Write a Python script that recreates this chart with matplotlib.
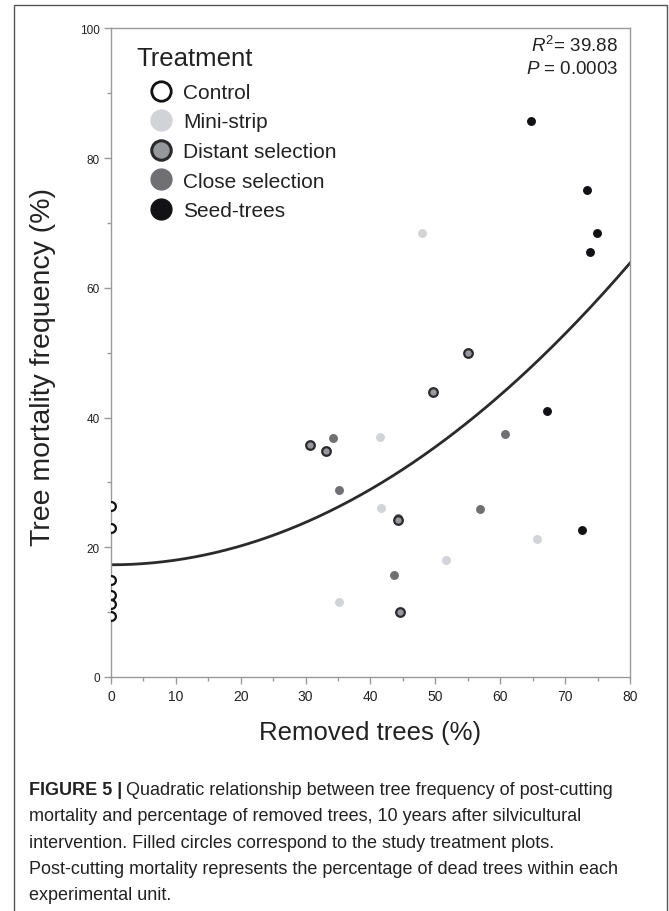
import matplotlib
matplotlib.use("Agg")
import numpy as np
import matplotlib.pyplot as plt
from matplotlib.lines import Line2D
from matplotlib.patches import Rectangle

# ---------- data ----------
control_x = [0, 0, 0, 0, 0, 0]
control_y = [26.3, 23.0, 14.9, 12.6, 11.2, 9.4]

ministrip_x = [35.1, 41.5, 41.6, 47.9, 51.6, 65.7]
ministrip_y = [11.5, 37.0, 26.0, 68.5, 18.1, 21.2]

closesel_x = [34.2, 35.1, 43.7, 44.2, 56.9, 60.7]
closesel_y = [36.8, 28.9, 15.8, 24.5, 25.9, 37.5]

distsel_x = [30.6, 33.2, 44.2, 44.5, 49.6, 55.0]
distsel_y = [35.8, 34.8, 24.2, 10.0, 43.9, 50.0]

seed_x = [64.7, 67.2, 72.6, 73.4, 73.8, 74.9]
seed_y = [85.8, 41.0, 22.7, 75.1, 65.6, 68.5]

# quadratic fit y = b0 + b2 * x^2
fit_b0 = 17.3
fit_b2 = 0.00727

r2_label = "39.88"
p_label = "0.0003"

legend_labels = ["Control", "Mini-strip", "Distant selection", "Close selection", "Seed-trees"]

caption_bold = "FIGURE 5 |"
caption_lines = [
    "Quadratic relationship between tree frequency of post-cutting",
    "mortality and percentage of removed trees, 10 years after silvicultural",
    "intervention. Filled circles correspond to the study treatment plots.",
    "Post-cutting mortality represents the percentage of dead trees within each",
    "experimental unit.",
]

# ---------- style ----------
plt.rcParams["font.family"] = ["Liberation Sans", "DejaVu Sans"]
plt.rcParams["mathtext.fontset"] = "custom"
plt.rcParams["mathtext.rm"] = "Liberation Sans"
plt.rcParams["mathtext.it"] = "Liberation Sans:italic"

c_light = "#d2d3d6"
c_mid = "#707072"
c_dist = "#97989b"
c_dark = "#2a2a2c"
c_black = "#121214"
c_spine = "#9a9a9a"
c_text = "#222222"

fig = plt.figure(figsize=(6.69, 9.12), dpi=100)
ax = fig.add_axes([0.1659, 0.2566, 0.7758, 0.7111])

# outer frame round the whole figure panel
fig.patches.append(Rectangle((14 / 669, -0.01), 653 / 669, 1 - 6 / 912 + 0.01,
                             transform=fig.transFigure, fill=False,
                             edgecolor="#555555", linewidth=1.0))

# fitted curve
xs = np.linspace(0, 80, 200)
ax.plot(xs, fit_b0 + fit_b2 * xs ** 2, color=c_dark, lw=2.0, zorder=2)

# points
ax.plot(control_x, control_y, "o", ms=6.3, mfc="white", mec=c_black, mew=1.6, zorder=3)
ax.plot(ministrip_x, ministrip_y, "o", ms=5.4, mfc=c_light, mec=c_light, zorder=3)
ax.plot(closesel_x, closesel_y, "o", ms=5.4, mfc=c_mid, mec=c_mid, zorder=3)
ax.plot(distsel_x, distsel_y, "o", ms=6.2, mfc=c_dist, mec=c_dark, mew=1.6, zorder=4)
ax.plot(seed_x, seed_y, "o", ms=5.4, mfc=c_black, mec=c_black, zorder=3)

ax.set_xlim(0, 80)
ax.set_ylim(0, 100)
ax.set_xticks(np.arange(0, 81, 10))
ax.set_xticks(np.arange(0, 81, 5), minor=True)
ax.set_yticks(np.arange(0, 101, 20))
ax.set_yticks(np.arange(0, 101, 10), minor=True)

for s in ax.spines.values():
    s.set_color(c_spine)
    s.set_linewidth(1.0)
ax.tick_params(which="major", direction="out", length=5, color=c_spine, width=1.0)
ax.tick_params(which="minor", direction="out", length=3, color=c_spine, width=1.0)
ax.tick_params(axis="x", labelsize=10, labelcolor=c_text, pad=4)
ax.tick_params(axis="y", labelsize=8.5, labelcolor=c_text, pad=3)

ax.set_xlabel("Removed trees (%)", fontsize=18.5, color=c_text, labelpad=12)
ax.set_ylabel("Tree mortality frequency (%)", fontsize=20.5, color=c_text)
ax.yaxis.set_label_coords(-0.106, 0.48)

# legend (title drawn separately so the rows sit indented under it)
handles = [
    Line2D([], [], ls="", marker="o", ms=14, mfc="white", mec=c_black, mew=2.0),
    Line2D([], [], ls="", marker="o", ms=15, mfc=c_light, mec=c_light),
    Line2D([], [], ls="", marker="o", ms=14, mfc=c_dist, mec=c_dark, mew=2.2),
    Line2D([], [], ls="", marker="o", ms=15, mfc=c_mid, mec=c_mid),
    Line2D([], [], ls="", marker="o", ms=15, mfc=c_black, mec=c_black),
]
leg = ax.legend(handles, legend_labels, loc="upper left",
                bbox_to_anchor=(0.0763, 0.916), frameon=False, fontsize=15,
                handlelength=1.0, handletextpad=0.55, labelspacing=0.506,
                borderaxespad=0, borderpad=0)
for t in leg.get_texts():
    t.set_color(c_text)
ax.text(0.048, 0.955, "Treatment", transform=ax.transAxes, ha="left", va="center",
        fontsize=18.5, color=c_text)

# statistics
ax.text(0.977, 0.974, r"$\mathit{R}^{2}$= " + r2_label, transform=ax.transAxes,
        ha="right", va="center", fontsize=13.5, color=c_text)
ax.text(0.977, 0.938, r"$\mathit{P}$ = " + p_label, transform=ax.transAxes,
        ha="right", va="center", fontsize=13.5, color=c_text)

# caption
cap_x = 29 / 669
cap_y0 = 1 - 795 / 912
line_h = 26.3 / 912
cap_size = 13
bold = fig.text(cap_x, cap_y0, caption_bold, fontsize=cap_size, fontweight="bold",
                color=c_text, va="baseline")
fig.canvas.draw()
bb = bold.get_window_extent()
fig.text(bb.x1 / fig.bbox.width + 4 / 669, cap_y0, caption_lines[0], fontsize=cap_size,
         color=c_text, va="baseline")
for i, line in enumerate(caption_lines[1:], start=1):
    fig.text(cap_x, cap_y0 - i * line_h, line, fontsize=cap_size, color=c_text,
             va="baseline")

fig.savefig("out.png", dpi=100)
